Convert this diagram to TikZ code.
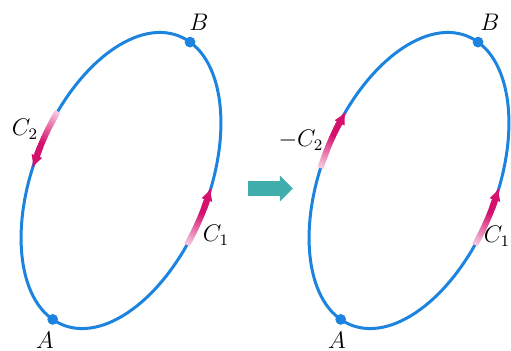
\documentclass[tikz,border=0pt]{standalone}
\usepackage{tikz}
\definecolor{curveblue}{RGB}{28,132,222}
\definecolor{arrowred}{RGB}{212,18,110}
\definecolor{arrowpink}{RGB}{246,200,224}
\definecolor{arrowteal}{RGB}{64,174,172}
\usetikzlibrary{arrows.meta}
% Farbverlauf auf einem Stueck der Ellipse (#1 Startwinkel, #2 Endwinkel)
\newcommand{\farbbogen}[2]{%
  \pgfmathsetmacro{\dir}{sign(#2-#1)}
  \pgfmathsetmacro{\te}{#2-5*\dir}
  \foreach \i in {0,...,19} {
    \pgfmathsetmacro{\ta}{#1+(\te-#1)*\i/20}
    \pgfmathsetmacro{\tb}{#1+(\te-#1)*(\i+1.4)/20}
    \pgfmathsetmacro{\mix}{min(100,100*\i/14)}
    \draw[bogen, arrowred!\mix!arrowpink] (\ta:155.7 and 87.5)
      arc[start angle=\ta, end angle=\tb, x radius=155.7, y radius=87.5];
  }
  \pgfmathsetmacro{\tc}{#2-8*\dir}
  \draw[bogen, ->, arrowred] (\tc:155.7 and 87.5) -- (#2:155.7 and 87.5);
}

\begin{document}
\begin{tikzpicture}[x=0.5pt, y=0.5pt,
      >={Latex[length=6.5pt,width=6pt]},   % Pfeilspitzen
      curve/.style={curveblue, line width=1.5pt},
      bogen/.style={line width=3pt},
      dot/.style={circle, fill=curveblue, inner sep=0pt, minimum size=5.4pt},
      font=\fontsize{11.5}{13}\selectfont]
  \useasboundingbox (0,0) rectangle (511,350);
  % linke Ellipse
  \begin{scope}[shift={(121,169.5)}, rotate=68]
    \draw[curve] (0,0) ellipse[x radius=155.7, y radius=87.5];
    \coordinate (A1) at (172.6:155.7 and 87.5);
    \coordinate (B1) at (-8:155.7 and 87.5);
    \farbbogen{-103}{-80}
    \farbbogen{75}{98}
  \end{scope}
  % rechte Ellipse
  \begin{scope}[shift={(409,169.5)}, rotate=68]
    \draw[curve] (0,0) ellipse[x radius=155.7, y radius=87.5];
    \coordinate (A2) at (172.6:155.7 and 87.5);
    \coordinate (B2) at (-8:155.7 and 87.5);
    \farbbogen{-103}{-80}
    \farbbogen{98}{75}
  \end{scope}
  % Punkte A und B
  \node[dot] (pA1) at (A1) {};
  \node[dot] (pB1) at (B1) {};
  \node[dot] (pA2) at (A2) {};
  \node[dot] (pB2) at (B2) {};
  % Beschriftung
  \node (labB1) at (199,328) {$B$};
  \node (labA1) at (45,10) {$A$};
  \node (labC21) at (25,221) {$C_2$};
  \node (labC11) at (216,115) {$C_1$};
  \node (labB2) at (490,328) {$B$};
  \node (labA2) at (337,10) {$A$};
  \node (labC22) at (301,210) {$-C_2$};
  \node (labC12) at (497,114) {$C_1$};
  % Pfeil in der Mitte
  \coordinate (s1) at (248,161.5);
  \coordinate (s2) at (293,161.5);
  \draw[arrowteal, line width=7.5pt, -{Triangle[length=6.5pt,width=12.5pt]}] (s1) -- (s2);
\end{tikzpicture}
\end{document}
